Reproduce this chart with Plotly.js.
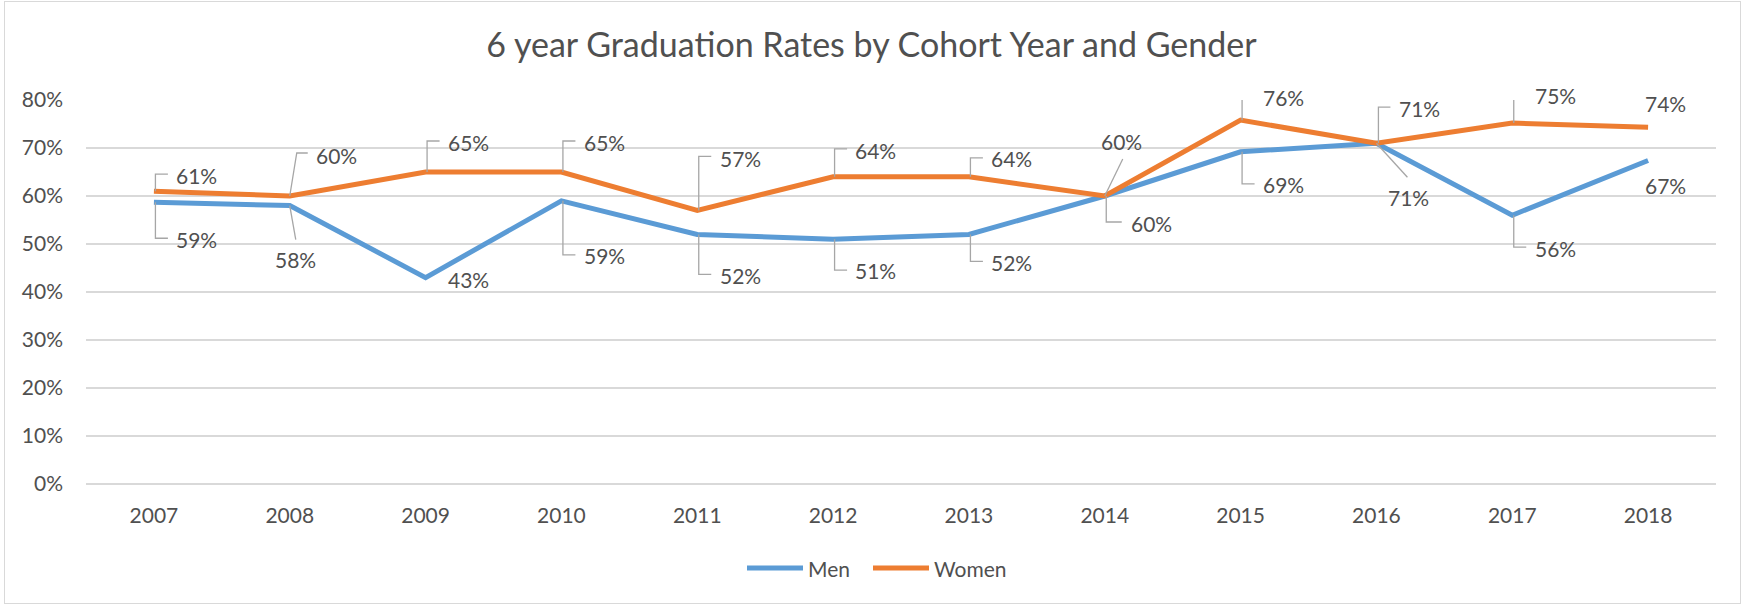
<!DOCTYPE html>
<html><head><meta charset="utf-8">
<script src="https://cdn.plot.ly/plotly-3.0.1.min.js"></script>
<style>
body{margin:0;background:#fff;}
#wrap{position:relative;width:1743px;height:606px;}
#chart{width:1743px;height:606px;}
#frame{position:absolute;left:4px;top:1px;width:1737px;height:603px;border:1px solid #D9D9D9;pointer-events:none;box-sizing:border-box;}
</style></head>
<body><div id="wrap"><div id="chart"></div><div id="frame"></div></div>
<script>
// ---- data ----
const years = [2007, 2008, 2009, 2010, 2011, 2012, 2013, 2014, 2015, 2016, 2017, 2018];
const men   = [58.7, 58.0, 43.0, 59.0, 52.0, 51.0, 52.0, 60.0, 69.2, 71.0, 56.0, 67.4];
const women = [61.0, 60.0, 65.0, 65.0, 57.0, 64.0, 64.0, 60.0, 75.8, 71.0, 75.2, 74.3];
const seriesNames = ['Men', 'Women'];
const yTickVals = [0, 10, 20, 30, 40, 50, 60, 70, 80];
const yTickText = ['0%', '10%', '20%', '30%', '40%', '50%', '60%', '70%', '80%'];
const xTickText = ['2007', '2008', '2009', '2010', '2011', '2012', '2013', '2014', '2015', '2016', '2017', '2018'];
const titleText = '6 year Graduation Rates by Cohort Year and Gender';

// ---- label placement (pixel offsets from each point, screen y down) ----
const menLabelOffsets = [[43,37],[6,54],[43,2],[43,55],[43,41],[42,31],[43,28],[47,27],[43,33],[32,54],[43,33],[17,25]];
const womenLabelOffsets = [[43,-16],[47,-41],[43,-30],[43,-30],[43,-52],[42,-26],[43,-18],[17,-55],[43,-23],[43,-35],[43,-28],[17,-24]];
const menLeaders = [
  [[1.5,0],[1.5,36],[14,36]], [[0,0],[6,34]], null, [[1.5,0],[1.5,54],[14,54]],
  [[1.5,0],[1.5,40],[14,40]], [[1.5,0],[1.5,31],[14,31]], [[1.5,0],[1.5,27],[14,27]], [[1.5,0],[1.5,26],[17,26]],
  [[1.5,0],[1.5,32],[14,32]], [[0,0],[31,34]], [[1.5,0],[1.5,32],[14,32]], null
];
const womenLeaders = [
  [[1.5,0],[1.5,-17],[14,-17]], [[0,0],[7,-43],[18,-43]], [[1.5,0],[1.5,-31],[14,-31]], [[1.5,0],[1.5,-31],[14,-31]],
  [[1.5,0],[1.5,-54],[14,-54]], [[1.5,0],[1.5,-28],[14,-28]], [[1.5,0],[1.5,-19],[14,-19]], [[0,0],[18,-37]],
  [[1.5,0],[1.5,-25],[14,-25]], [[2,0],[2,-36],[14,-36]], [[1.5,0],[1.5,-30],[14,-30]], null
];

// ---- styles ----
const FONT = 'Lato, "Open Sans", sans-serif';
const TXT = '#505050';
const FS = 21;
const colors = {Men: '#5B9BD5', Women: '#ED7D31'};
const GRID = '#D9D9D9';
const LEADER = '#A6A6A6';

const M = {l: 86, r: 27, t: 100, b: 122};
const W = 1743, H = 606;
const plotW = W - M.l - M.r, plotH = H - M.t - M.b;
const px2paperX = p => (p - M.l) / plotW;
const px2paperY = p => (H - M.b - p) / plotH;

const seriesData = {Men: men, Women: women};
const traces = seriesNames.map(name => ({
  type: 'scatter', mode: 'lines', name: name,
  x: years, y: seriesData[name],
  line: {color: colors[name], width: 5},
  hoverinfo: 'skip', showlegend: false
}));

const annotations = [];
const shapes = [];
function addLabels(vals, offsets, leaders) {
  vals.forEach((v, i) => {
    annotations.push({
      x: years[i], y: v, xref: 'x', yref: 'y',
      text: Math.round(v) + '%', showarrow: false,
      xanchor: 'center', yanchor: 'middle',
      xshift: offsets[i][0], yshift: -offsets[i][1],
      font: {family: FONT, size: FS, color: TXT}
    });
    const L = leaders[i];
    if (L) {
      const path = L.map((p, k) => (k ? 'L' : 'M') + p[0] + ',' + (-p[1])).join(' ');
      shapes.push({
        type: 'path', xref: 'x', yref: 'y',
        xsizemode: 'pixel', ysizemode: 'pixel',
        xanchor: years[i], yanchor: v,
        path: path, line: {color: LEADER, width: 1.3}, layer: 'above'
      });
    }
  });
}
addLabels(men, menLabelOffsets, menLeaders);
addLabels(women, womenLabelOffsets, womenLeaders);

// ---- custom legend (long line samples) ----
const legendY = 568;
const legendItems = [{name: 'Men', x0: 747, x1: 803, tx: 806}, {name: 'Women', x0: 873, x1: 929, tx: 932}];
legendItems.forEach(it => {
  shapes.push({type: 'line', xref: 'paper', yref: 'paper',
    x0: px2paperX(it.x0), x1: px2paperX(it.x1), y0: px2paperY(legendY), y1: px2paperY(legendY),
    line: {color: colors[it.name], width: 5}});
  annotations.push({xref: 'paper', yref: 'paper', x: px2paperX(it.tx), y: px2paperY(legendY),
    xanchor: 'left', yanchor: 'middle', text: it.name, showarrow: false,
    font: {family: FONT, size: FS, color: TXT}});
});

const layout = {
  width: W, height: H,
  margin: M,
  paper_bgcolor: '#ffffff', plot_bgcolor: '#ffffff',
  font: {family: FONT, color: TXT, size: FS},
  title: {text: titleText, font: {family: FONT, size: 34, color: TXT},
          xref: 'container', x: 0.5, xanchor: 'center', yref: 'container', y: 1 - 45 / H, yanchor: 'middle'},
  xaxis: {range: [2006.5, 2018.5], tickmode: 'array', tickvals: years, ticktext: xTickText,
          showgrid: false, zeroline: false, showline: false, ticks: '',
          tickfont: {family: FONT, size: FS, color: TXT}, ticklabelstandoff: 17, fixedrange: true},
  yaxis: {range: [0, 80], tickmode: 'array', tickvals: yTickVals, ticktext: yTickText,
          showgrid: true, gridcolor: GRID, gridwidth: 1.3, zeroline: true, zerolinecolor: GRID, zerolinewidth: 1.3,
          showline: false, ticks: '', tickfont: {family: FONT, size: FS, color: TXT},
          ticklabelstandoff: 22, fixedrange: true},
  showlegend: false,
  annotations: annotations,
  shapes: shapes
};

Plotly.newPlot('chart', traces, layout, {displayModeBar: false, staticPlot: true});
</script>
</body></html>
